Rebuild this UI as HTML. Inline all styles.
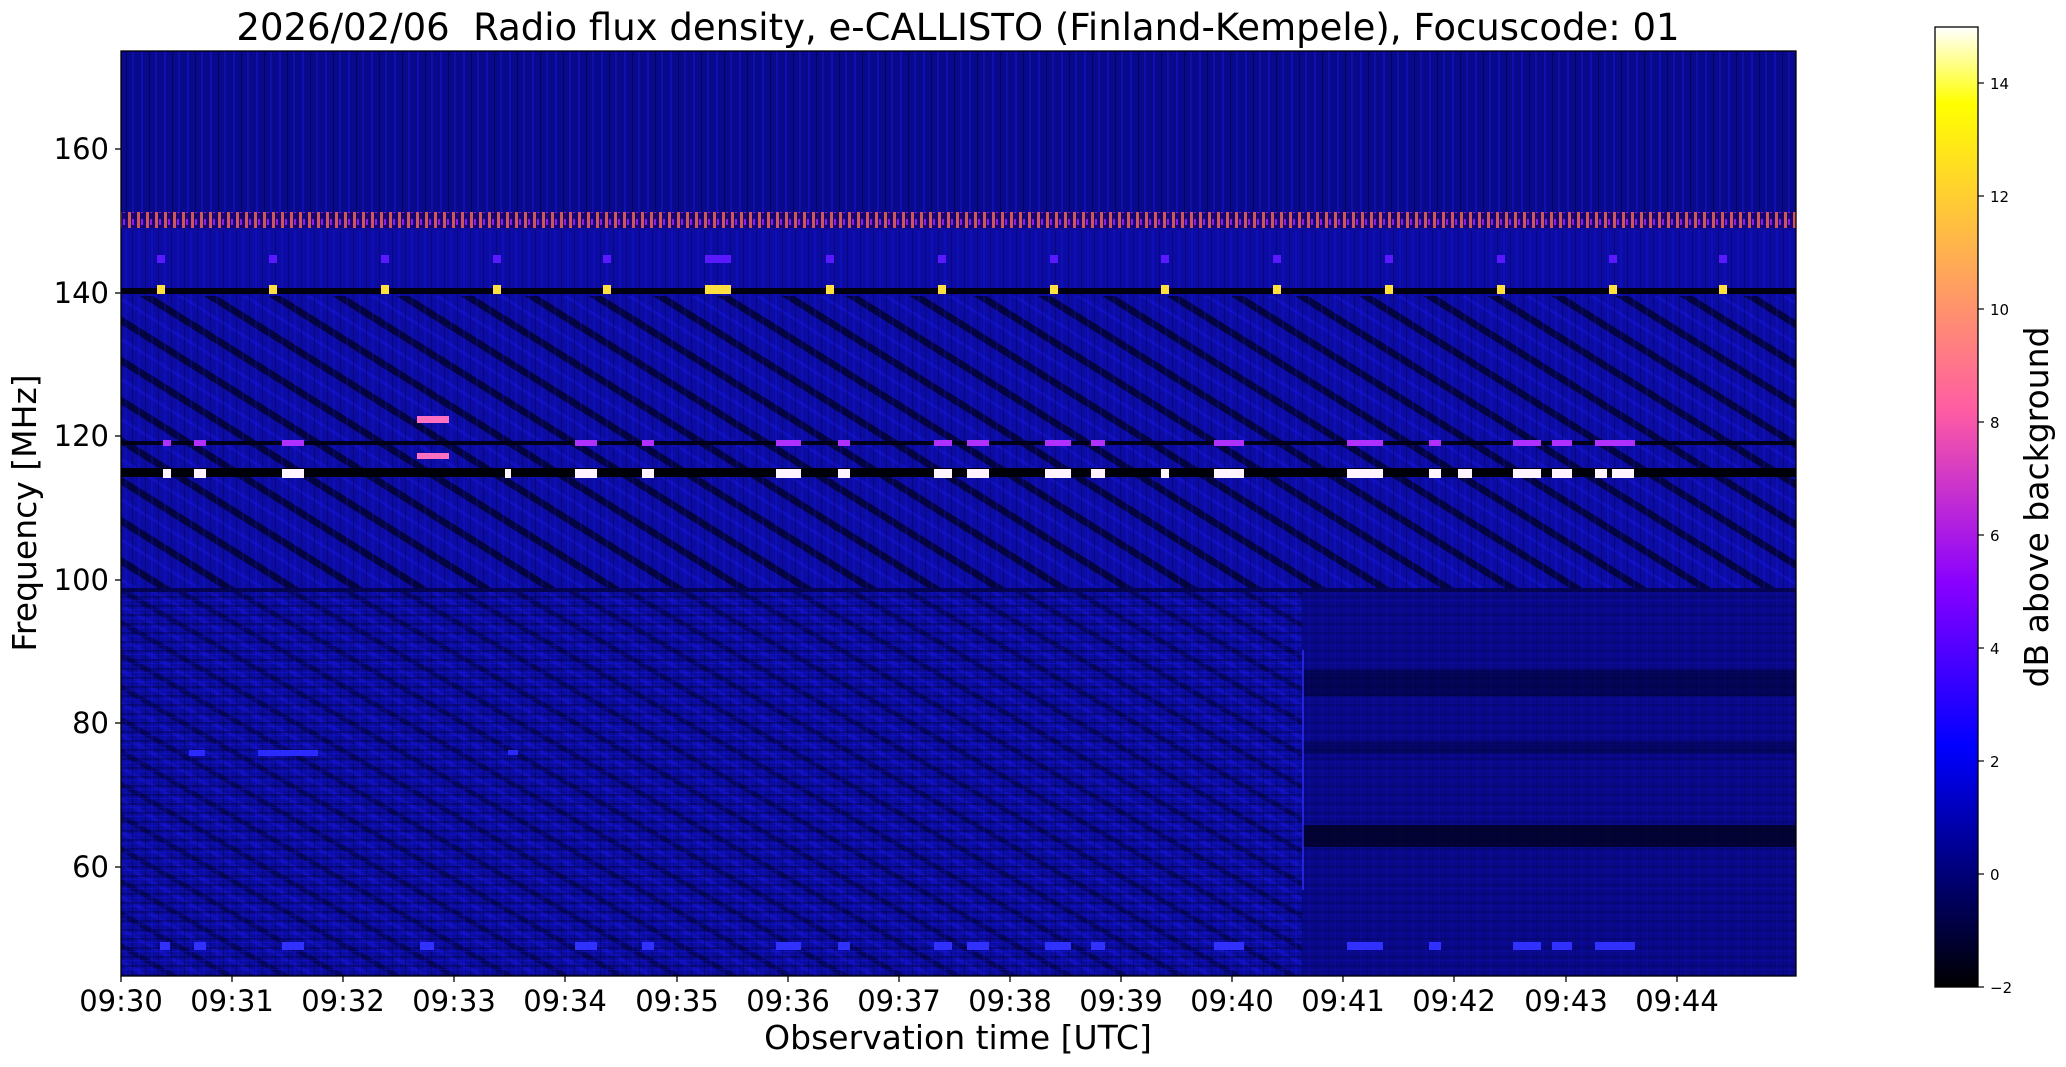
<!DOCTYPE html>
<html><head><meta charset="utf-8"><style>
html,body{margin:0;padding:0;background:#fff;}
svg{display:block;font-family:"DejaVu Sans","Liberation Sans",sans-serif;}
</style></head><body>
<svg width="2066" height="1067" viewBox="0 0 2066 1067" xmlns="http://www.w3.org/2000/svg">
<defs>
<linearGradient id="cb" x1="0" y1="1" x2="0" y2="0">
<stop offset="0" stop-color="#000000"/>
<stop offset="0.25" stop-color="#0000ff"/>
<stop offset="0.42" stop-color="#8800ff"/>
<stop offset="0.6" stop-color="#ff5ca3"/>
<stop offset="0.8" stop-color="#ffc23d"/>
<stop offset="0.92" stop-color="#ffff00"/>
<stop offset="1" stop-color="#ffffff"/>
</linearGradient>
<pattern id="stripes" width="34" height="34" patternUnits="userSpaceOnUse" patternTransform="rotate(32)">
<rect y="0" width="34" height="7" fill="#000018" opacity="0.7"/>
<rect y="18" width="34" height="3" fill="#1a1aff" opacity="0.3"/>
</pattern>
<pattern id="stripes2" width="28" height="28" patternUnits="userSpaceOnUse" patternTransform="rotate(30)">
<rect y="0" width="28" height="5" fill="#000020" opacity="0.45"/>
<rect y="14" width="28" height="4" fill="#2020ff" opacity="0.25"/>
</pattern>
<pattern id="vnoise" width="23" height="10" patternUnits="userSpaceOnUse">
<rect x="3" width="2" height="10" fill="#1a1aff" opacity="0.35"/>
<rect x="11" width="1" height="10" fill="#000030" opacity="0.5"/>
<rect x="17" width="2" height="10" fill="#2020ff" opacity="0.25"/>
</pattern>
<pattern id="vnoise2" width="13" height="10" patternUnits="userSpaceOnUse">
<rect x="2" width="1" height="10" fill="#000030" opacity="0.35"/>
<rect x="8" width="2" height="10" fill="#1818ff" opacity="0.2"/>
</pattern>
<pattern id="hnoise" width="10" height="9" patternUnits="userSpaceOnUse">
<rect y="2" width="10" height="2" fill="#000030" opacity="0.35"/>
<rect y="6" width="10" height="1" fill="#1818ff" opacity="0.3"/>
</pattern>
<pattern id="orange" width="9" height="12" patternUnits="userSpaceOnUse">
<rect width="9" height="12" fill="#1a0070"/>
<rect x="2" width="3" height="12" fill="#ff6a4a"/>
<rect x="6" y="3" width="2" height="6" fill="#b020ff"/>
</pattern>
</defs>

<rect x="121" y="51" width="1675" height="925" fill="#0b0b9c"/>
<rect x="121" y="51" width="1675" height="170" fill="#09098c"/>
<rect x="121" y="51" width="1675" height="170" fill="url(#vnoise)"/>
<rect x="121" y="230" width="1675" height="360" fill="#0c0ca4"/>
<rect x="121" y="296" width="1675" height="292" fill="url(#stripes)"/>
<rect x="121" y="230" width="1675" height="360" fill="url(#vnoise2)"/>
<rect x="121" y="592" width="1181" height="384" fill="url(#stripes2)"/>
<rect x="121" y="592" width="1675" height="384" fill="url(#hnoise)"/>
<rect x="121" y="592" width="1675" height="384" fill="url(#vnoise2)"/>
<rect x="1302" y="592" width="494" height="384" fill="#07077a" opacity="0.55"/>
<rect x="1302" y="825" width="494" height="22" fill="#000010" opacity="0.7"/>
<rect x="1302" y="670" width="494" height="26" fill="#000018" opacity="0.45"/>
<rect x="1302" y="742" width="494" height="12" fill="#000020" opacity="0.35"/>
<rect x="1302" y="650" width="2" height="240" fill="#3030ff" opacity="0.7"/>
<rect x="121" y="212" width="1675" height="16" fill="url(#orange)" opacity="0.8"/>
<rect x="121" y="288" width="1675" height="6" fill="#000010"/>
<rect x="121" y="441" width="1675" height="4" fill="#000018"/>
<rect x="121" y="468" width="1675" height="9" fill="#000008"/>
<rect x="121" y="588" width="1675" height="4" fill="#000020" opacity="0.6"/>

<g fill="#ffe040">
<rect x="157" y="285" width="8" height="9"/><rect x="269" y="285" width="8" height="9"/><rect x="381" y="285" width="8" height="9"/>
<rect x="493" y="285" width="8" height="9"/><rect x="603" y="285" width="8" height="9"/><rect x="705" y="285" width="26" height="9"/>
<rect x="826" y="285" width="8" height="9"/><rect x="938" y="285" width="8" height="9"/><rect x="1050" y="285" width="8" height="9"/>
<rect x="1161" y="285" width="8" height="9"/><rect x="1273" y="285" width="8" height="9"/><rect x="1385" y="285" width="8" height="9"/>
<rect x="1497" y="285" width="8" height="9"/><rect x="1609" y="285" width="8" height="9"/><rect x="1719" y="285" width="8" height="9"/>
</g>
<g fill="#5a18ff">
<rect x="157" y="255" width="8" height="8"/><rect x="269" y="255" width="8" height="8"/><rect x="381" y="255" width="8" height="8"/>
<rect x="493" y="255" width="8" height="8"/><rect x="603" y="255" width="8" height="8"/><rect x="705" y="255" width="26" height="8"/>
<rect x="826" y="255" width="8" height="8"/><rect x="938" y="255" width="8" height="8"/><rect x="1050" y="255" width="8" height="8"/>
<rect x="1161" y="255" width="8" height="8"/><rect x="1273" y="255" width="8" height="8"/><rect x="1385" y="255" width="8" height="8"/>
<rect x="1497" y="255" width="8" height="8"/><rect x="1609" y="255" width="8" height="8"/><rect x="1719" y="255" width="8" height="8"/>
</g>
<g fill="#fff4ff">
<rect x="163" y="469" width="8" height="9"/><rect x="194" y="469" width="12" height="9"/><rect x="282" y="469" width="22" height="9"/>
<rect x="505" y="469" width="6" height="9"/><rect x="575" y="469" width="22" height="9"/><rect x="642" y="469" width="12" height="9"/>
<rect x="776" y="469" width="25" height="9"/><rect x="838" y="469" width="12" height="9"/><rect x="934" y="469" width="18" height="9"/>
<rect x="967" y="469" width="22" height="9"/><rect x="1045" y="469" width="26" height="9"/><rect x="1091" y="469" width="14" height="9"/>
<rect x="1161" y="469" width="8" height="9"/><rect x="1214" y="469" width="30" height="9"/><rect x="1347" y="469" width="36" height="9"/>
<rect x="1429" y="469" width="12" height="9"/><rect x="1458" y="469" width="14" height="9"/><rect x="1513" y="469" width="28" height="9"/>
<rect x="1552" y="469" width="20" height="9"/><rect x="1595" y="469" width="12" height="9"/><rect x="1612" y="469" width="22" height="9"/>
</g>
<g fill="#b030ff">
<rect x="163" y="440" width="8" height="6"/><rect x="194" y="440" width="12" height="6"/><rect x="282" y="440" width="22" height="6"/>
<rect x="575" y="440" width="22" height="6"/><rect x="642" y="440" width="12" height="6"/><rect x="776" y="440" width="25" height="6"/>
<rect x="838" y="440" width="12" height="6"/><rect x="934" y="440" width="18" height="6"/><rect x="967" y="440" width="22" height="6"/>
<rect x="1045" y="440" width="26" height="6"/><rect x="1091" y="440" width="14" height="6"/><rect x="1214" y="440" width="30" height="6"/>
<rect x="1347" y="440" width="36" height="6"/><rect x="1429" y="440" width="12" height="6"/><rect x="1513" y="440" width="28" height="6"/>
<rect x="1552" y="440" width="20" height="6"/><rect x="1595" y="440" width="40" height="6"/>
</g>
<rect x="417" y="416" width="32" height="7" fill="#ff70c0"/><rect x="417" y="453" width="32" height="6" fill="#ff70c0"/>
<g fill="#2a2aff">
<rect x="189" y="750" width="16" height="6"/><rect x="258" y="750" width="60" height="6"/><rect x="508" y="750" width="10" height="5"/>
</g>
<g fill="#3030ff">
<rect x="160" y="942" width="10" height="8"/><rect x="194" y="942" width="12" height="8"/><rect x="282" y="942" width="22" height="8"/>
<rect x="420" y="942" width="14" height="8"/><rect x="575" y="942" width="22" height="8"/><rect x="642" y="942" width="12" height="8"/>
<rect x="776" y="942" width="25" height="8"/><rect x="838" y="942" width="12" height="8"/><rect x="934" y="942" width="18" height="8"/>
<rect x="967" y="942" width="22" height="8"/><rect x="1045" y="942" width="26" height="8"/><rect x="1091" y="942" width="14" height="8"/>
<rect x="1214" y="942" width="30" height="8"/><rect x="1347" y="942" width="36" height="8"/><rect x="1429" y="942" width="12" height="8"/>
<rect x="1513" y="942" width="28" height="8"/><rect x="1552" y="942" width="20" height="8"/><rect x="1595" y="942" width="40" height="8"/>
</g>
<rect x="121" y="51" width="1675" height="925" fill="none" stroke="#000" stroke-width="1.3"/>

<g stroke="#000" stroke-width="1.3">
<line x1="115" y1="149" x2="121" y2="149"/><line x1="115" y1="293" x2="121" y2="293"/><line x1="115" y1="436" x2="121" y2="436"/>
<line x1="115" y1="580" x2="121" y2="580"/><line x1="115" y1="723" x2="121" y2="723"/><line x1="115" y1="867" x2="121" y2="867"/>
</g>
<g font-size="29" text-anchor="end" fill="#000">
<text x="109" y="159">160</text><text x="109" y="303">140</text><text x="109" y="446">120</text>
<text x="109" y="590">100</text><text x="109" y="733">80</text><text x="109" y="877">60</text>
</g>
<g stroke="#000" stroke-width="1.3">
<line x1="121" y1="976" x2="121" y2="982"/><line x1="232" y1="976" x2="232" y2="982"/><line x1="343" y1="976" x2="343" y2="982"/>
<line x1="454" y1="976" x2="454" y2="982"/><line x1="565" y1="976" x2="565" y2="982"/><line x1="677" y1="976" x2="677" y2="982"/>
<line x1="788" y1="976" x2="788" y2="982"/><line x1="899" y1="976" x2="899" y2="982"/><line x1="1010" y1="976" x2="1010" y2="982"/>
<line x1="1121" y1="976" x2="1121" y2="982"/><line x1="1232" y1="976" x2="1232" y2="982"/><line x1="1343" y1="976" x2="1343" y2="982"/>
<line x1="1454" y1="976" x2="1454" y2="982"/><line x1="1566" y1="976" x2="1566" y2="982"/><line x1="1677" y1="976" x2="1677" y2="982"/>
</g>
<g font-size="29" text-anchor="middle" fill="#000">
<text x="121" y="1011">09:30</text><text x="232" y="1011">09:31</text><text x="343" y="1011">09:32</text>
<text x="454" y="1011">09:33</text><text x="565" y="1011">09:34</text><text x="677" y="1011">09:35</text>
<text x="788" y="1011">09:36</text><text x="899" y="1011">09:37</text><text x="1010" y="1011">09:38</text>
<text x="1121" y="1011">09:39</text><text x="1232" y="1011">09:40</text><text x="1343" y="1011">09:41</text>
<text x="1454" y="1011">09:42</text><text x="1566" y="1011">09:43</text><text x="1677" y="1011">09:44</text>
</g>
<text x="958" y="1049" font-size="33" text-anchor="middle">Observation time [UTC]</text>
<text transform="translate(36,513) rotate(-90)" font-size="33" text-anchor="middle">Frequency [MHz]</text>
<text x="958" y="40" font-size="37" text-anchor="middle" xml:space="preserve">2026/02/06  Radio flux density, e-CALLISTO (Finland-Kempele), Focuscode: 01</text>

<rect x="1935" y="27" width="43" height="960" fill="url(#cb)" stroke="#000" stroke-width="1.3"/>
<g stroke="#000" stroke-width="1.2">
<line x1="1978" y1="987" x2="1984" y2="987"/><line x1="1978" y1="874" x2="1984" y2="874"/><line x1="1978" y1="761" x2="1984" y2="761"/>
<line x1="1978" y1="648" x2="1984" y2="648"/><line x1="1978" y1="535" x2="1984" y2="535"/><line x1="1978" y1="422" x2="1984" y2="422"/>
<line x1="1978" y1="309" x2="1984" y2="309"/><line x1="1978" y1="196" x2="1984" y2="196"/><line x1="1978" y1="83" x2="1984" y2="83"/>
</g>
<g font-size="15" fill="#000">
<text x="1990" y="993">−2</text><text x="1990" y="880">0</text><text x="1990" y="767">2</text><text x="1990" y="654">4</text>
<text x="1990" y="541">6</text><text x="1990" y="428">8</text><text x="1990" y="315">10</text><text x="1990" y="202">12</text><text x="1990" y="89">14</text>
</g>
<text transform="translate(2048,507) rotate(-90)" font-size="33" text-anchor="middle">dB above background</text>
</svg>
</body></html>
